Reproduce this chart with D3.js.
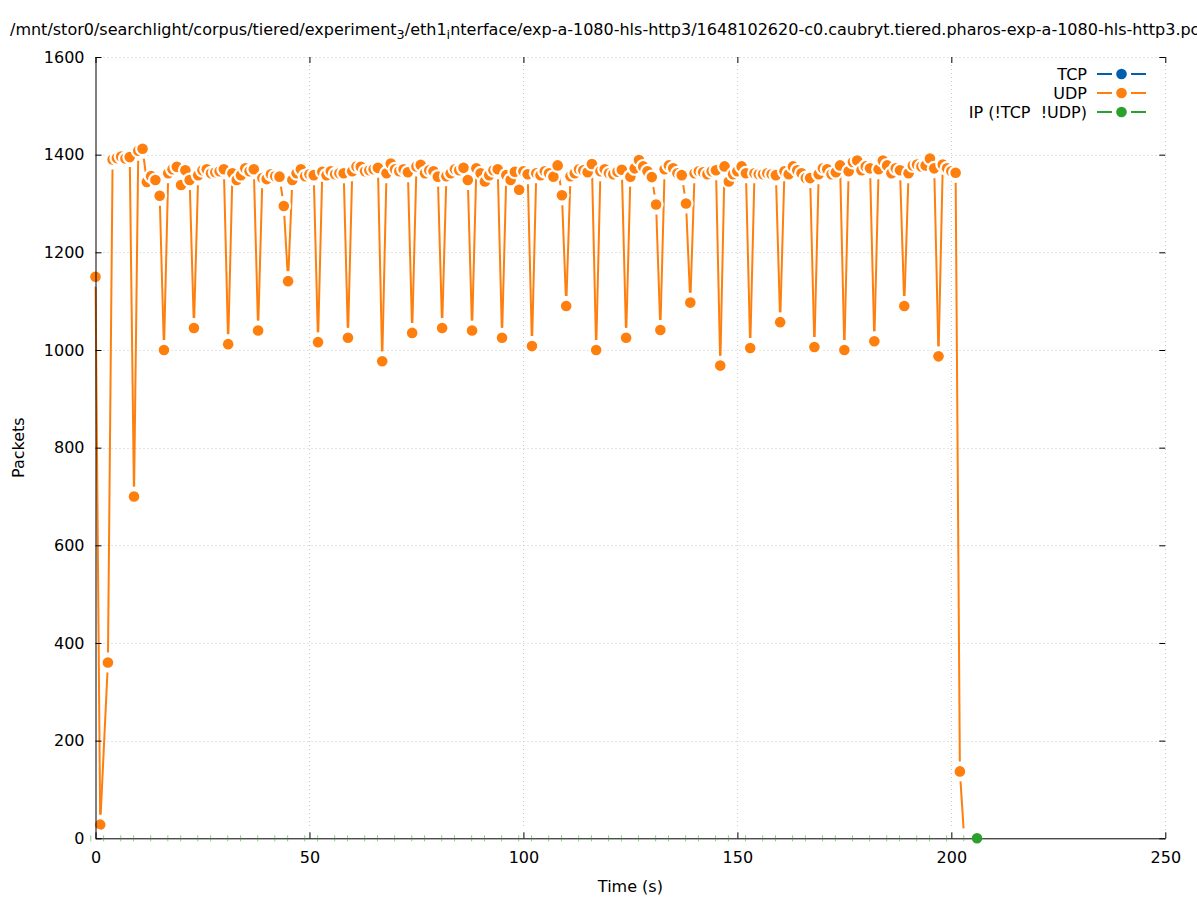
<!DOCTYPE html>
<html><head><meta charset="utf-8">
<script src="https://cdn.jsdelivr.net/npm/d3@7"></script>
<style>
body{margin:0;background:#fff}
svg{display:block}
text{font-family:"DejaVu Sans",sans-serif;fill:#000}
</style>
</head><body>
<script>
// ---------- data ----------
const xTicks = [0, 50, 100, 150, 200, 250];
const yTicks = [0, 200, 400, 600, 800, 1000, 1200, 1400, 1600];
const seriesNames = ["TCP", "UDP", "IP (!TCP  !UDP)"];
const seriesColors = ["#0060ad", "#ff7f0e", "#2ca02c"];

const tcpTimes = [];
const tcpValues = [];

const udpTimes = [0, 1.1, 2.9,
  4,5,6,7,8,9,10,11,12,13,
  14,15,16,17,18,19,20,21,22,23,
  24,25,26,27,28,29,30,31,32,33,
  34,35,36,37,38,39,40,41,42,43,
  44,45,46,47,48,49,50,51,52,53,
  54,55,56,57,58,59,60,61,62,63,
  64,65,66,67,68,69,70,71,72,73,
  74,75,76,77,78,79,80,81,82,83,
  84,85,86,87,88,89,90,91,92,93,
  94,95,96,97,98,99,100,101,102,103,
  104,105,106,107,108,109,110,111,112,113,
  114,115,116,117,118,119,120,121,122,123,
  124,125,126,127,128,129,130,131,132,133,
  134,135,136,137,138,139,140,141,142,143,
  144,145,146,147,148,149,150,151,152,153,
  154,155,156,157,158,159,160,161,162,163,
  164,165,166,167,168,169,170,171,172,173,
  174,175,176,177,178,179,180,181,182,183,
  184,185,186,187,188,189,190,191,192,193,
  194,195,196,197,198,199,200,201,202,203];
const udpValues = [1150, 28, 360,
  1390,1393,1396,1392,1395,700,1408,1412,1344,1356,
  1348,1316,1000,1362,1370,1375,1338,1368,1348,1045,
  1358,1368,1370,1362,1364,1366,1370,1012,1362,1348,
  1358,1372,1366,1370,1040,1352,1350,1360,1356,1355,
  1295,1141,1348,1362,1370,1356,1360,1358,1016,1365,
  1358,1366,1360,1362,1362,1025,1366,1376,1375,1366,
  1368,1370,1373,977,1362,1382,1370,1366,1370,1364,
  1035,1376,1379,1362,1368,1366,1355,1045,1356,1362,
  1370,1368,1373,1348,1040,1372,1362,1345,1358,1368,
  1370,1025,1358,1348,1365,1328,1366,1360,1008,1362,
  1358,1366,1362,1355,1378,1317,1090,1356,1362,1370,
  1368,1364,1381,1000,1366,1370,1362,1360,1365,1369,
  1025,1355,1372,1389,1376,1366,1354,1298,1041,1370,
  1378,1372,1362,1358,1300,1097,1362,1366,1364,1360,
  1366,1368,968,1376,1345,1360,1366,1376,1362,1004,
  1362,1360,1360,1362,1360,1358,1057,1366,1360,1376,
  1368,1362,1352,1352,1006,1360,1372,1370,1360,1364,
  1378,1000,1366,1385,1388,1368,1376,1372,1018,1370,
  1388,1378,1362,1372,1368,1090,1362,1378,1380,1376,
  1378,1392,1372,987,1380,1372,1366,1363,137,0];

// IP (!TCP !UDP): points visible along the axis, last one fully shown
const ipTimes = [0,3,7,10,14,18,21,25,28,32,35,39,43,46,50,53,57,60,64,67,
  71,75,78,82,85,89,92,96,100,103,107,110,114,117,121,124,128,132,135,139,
  142,146,149,153,157,160,164,167,171,174,178,182,186,189,193,196,200,204,206];
const ipValues = [0,0,0,0,0,0,0,0,0,0,0,0,0,0,0,0,0,0,0,0,
  0,0,0,0,0,0,0,0,0,0,0,0,0,0,0,0,0,0,0,0,
  0,0,0,0,0,0,0,0,0,0,0,0,0,0,0,0,0,0,0];

const titleParts = [
  {t: "/mnt/stor0/searchlight/corpus/tiered/experiment", sub: false},
  {t: "3", sub: true},
  {t: "/eth1", sub: false},
  {t: "i", sub: true},
  {t: "nterface/exp-a-1080-hls-http3/1648102620-c0.caubryt.tiered.pharos-exp-a-1080-hls-http3.pcap", sub: false}
];

// ---------- layout ----------
const W = 1197, H = 900;
const L = 95.5, R = 1165.3, T = 57, B = 838.3;
const FS = 16;
const DOT_R = 5.3, HALO_R = 7.5, GAP = 10, IP_HALO = 10;

const svg = d3.select("body").append("svg").attr("width", W).attr("height", H);
svg.append("rect").attr("width", W).attr("height", H).attr("fill", "#fff");

const x = d3.scaleLinear().domain([0, 250]).range([L, R]);
const y = d3.scaleLinear().domain([0, 1600]).range([B, T]);

// grid
const grid = svg.append("g").attr("stroke", "#c8c8c8").attr("stroke-width", 1)
  .attr("stroke-dasharray", "1,3").attr("fill", "none");
grid.selectAll(".gx").data(xTicks.filter(d => d > 0)).join("line")
  .attr("x1", d => Math.round(x(d)) + 0.5).attr("x2", d => Math.round(x(d)) + 0.5)
  .attr("y1", T).attr("y2", B);
grid.selectAll(".gy").data(yTicks.filter(d => d > 0)).join("line")
  .attr("y1", d => Math.round(y(d)) + 0.5).attr("y2", d => Math.round(y(d)) + 0.5)
  .attr("x1", L).attr("x2", R);

// series drawing helper (linespoints with gaps around points)
function drawSeries(times, values, color) {
  const pts = times.map((t, i) => [x(t), y(values[i])]);
  const g = svg.append("g");
  const line = d3.line();
  for (let i = 0; i < pts.length - 1; i++) {
    const [x0, y0] = pts[i], [x1, y1] = pts[i + 1];
    const dx = x1 - x0, dy = y1 - y0, len = Math.hypot(dx, dy);
    if (len <= 2 * GAP) continue;
    const ux = dx / len, uy = dy / len;
    g.append("path")
      .attr("d", line([[x0 + ux * GAP, y0 + uy * GAP], [x1 - ux * GAP, y1 - uy * GAP]]))
      .attr("stroke", color).attr("stroke-width", 2).attr("fill", "none")
      .attr("stroke-linecap", "butt");
  }
  pts.forEach(p => {
    g.append("circle").attr("cx", p[0]).attr("cy", p[1]).attr("r", HALO_R).attr("fill", "#fff");
    g.append("circle").attr("cx", p[0]).attr("cy", p[1]).attr("r", DOT_R).attr("fill", color);
  });
}

drawSeries(tcpTimes, tcpValues, seriesColors[0]);
drawSeries(udpTimes, udpValues, seriesColors[1]);

// IP series halos
const ipPts = ipTimes.map((t, i) => [x(t), y(ipValues[i])]);
svg.append("g").selectAll("circle").data(ipPts).join("circle")
  .attr("cx", d => d[0]).attr("cy", d => d[1]).attr("r", IP_HALO).attr("fill", "#fff");

// axes
const fmt = d3.format("d");
const axB = d3.axisBottom(x).tickValues(xTicks).tickFormat(fmt).tickSizeInner(-6).tickSizeOuter(0).tickPadding(13);
const axL = d3.axisLeft(y).tickValues(yTicks).tickFormat(fmt).tickSizeInner(-6).tickSizeOuter(0).tickPadding(11);
const axT = d3.axisTop(x).tickValues(xTicks).tickSizeInner(-6).tickSizeOuter(0).tickFormat("");
const axR = d3.axisRight(y).tickValues(yTicks).tickSizeInner(-6).tickSizeOuter(0).tickFormat("");

function styleAxis(g, keepDomain) {
  g.selectAll("text").attr("font-size", FS).attr("font-family", "DejaVu Sans").attr("fill", "#000");
  g.selectAll("line").attr("stroke", "#000");
  if (keepDomain) g.select(".domain").attr("stroke", "#000"); else g.select(".domain").remove();
  g.attr("font-size", FS);
}
svg.append("g").attr("transform", `translate(0,${B})`).call(axB).call(g => styleAxis(g, true));
svg.append("g").attr("transform", `translate(${L},0)`).call(axL).call(g => styleAxis(g, true));
svg.append("g").attr("transform", `translate(0,${T})`).call(axT).call(g => styleAxis(g, false));
svg.append("g").attr("transform", `translate(${R},0)`).call(axR).call(g => styleAxis(g, false));

// IP points: slivers for covered points, last full dot
const ipG = svg.append("g");
ipPts.forEach((p, i) => {
  if (i < ipPts.length - 1) {
    ipG.append("line").attr("x1", p[0] - 4.7).attr("x2", p[0] - 4.7)
      .attr("y1", p[1] - 3).attr("y2", p[1] + 3)
      .attr("stroke", seriesColors[2]).attr("stroke-width", 1).attr("opacity", 0.55);
  } else {
    ipG.append("circle").attr("cx", p[0]).attr("cy", p[1]).attr("r", DOT_R).attr("fill", seriesColors[2]);
  }
});

// title
const title = svg.append("text").attr("x", 10).attr("y", 35).attr("font-size", FS);
{
  let shifted = 0;
  titleParts.forEach(p => {
    const ts = title.append("tspan").text(p.t);
    const want = p.sub ? 4 : 0;
    if (p.sub) ts.attr("font-size", FS * 0.8);
    ts.attr("dy", want - shifted);
    shifted = want;
  });
}

// axis labels
svg.append("text").attr("x", (L + R) / 2).attr("y", 892).attr("text-anchor", "middle")
  .attr("font-size", FS).text("Time (s)");
svg.append("text").attr("transform", `translate(24,${(T + B) / 2}) rotate(-90)`)
  .attr("text-anchor", "middle").attr("font-size", FS).text("Packets");

// legend
const lg = svg.append("g");
seriesNames.forEach((name, i) => {
  const yy = 74 + i * 19;
  lg.append("text").attr("x", 1087).attr("y", yy).attr("dy", "0.35em")
    .attr("text-anchor", "end").attr("font-size", FS).style("white-space", "pre").text(name);
  lg.append("line").attr("x1", 1097).attr("x2", 1112).attr("y1", yy).attr("y2", yy)
    .attr("stroke", seriesColors[i]).attr("stroke-width", 2);
  lg.append("line").attr("x1", 1131).attr("x2", 1146).attr("y1", yy).attr("y2", yy)
    .attr("stroke", seriesColors[i]).attr("stroke-width", 2);
  lg.append("circle").attr("cx", 1121.5).attr("cy", yy).attr("r", DOT_R).attr("fill", seriesColors[i]);
});
</script>
</body></html>
